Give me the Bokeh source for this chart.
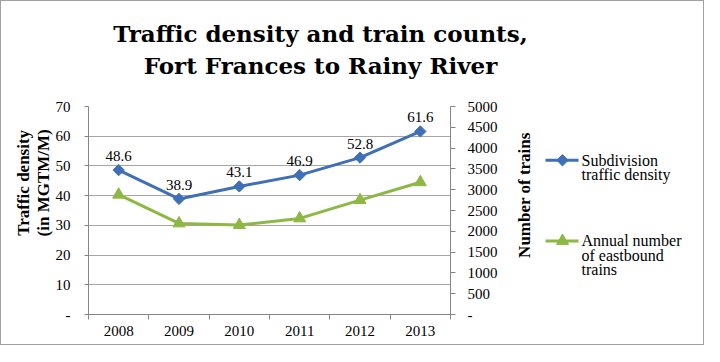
import numpy as np
from bokeh.plotting import figure
from bokeh.layouts import column, row
from bokeh.models import (Range1d, LinearAxis, FixedTicker, LabelSet,
                          ColumnDataSource)
from bokeh.core.properties import value
from bokeh.embed import file_html
from bokeh.resources import INLINE

# ---- data ----
years = ["2008", "2009", "2010", "2011", "2012", "2013"]
density = [48.6, 38.9, 43.1, 46.9, 52.8, 61.6]
trains = [2880, 2190, 2150, 2310, 2750, 3180]
left_ticks = [0, 10, 20, 30, 40, 50, 60, 70]
right_ticks = [0, 500, 1000, 1500, 2000, 2500, 3000, 3500, 4000, 4500, 5000]
title_lines = ["Traffic density and train counts,", "Fort Frances to Rainy River"]
left_title = ["Traffic density", "(in MGTM/M)"]
right_title = "Number of trains"
series_names = [["Subdivision", "traffic density"],
                ["Annual number", "of eastbound", "trains"]]

FONT = "Liberation Serif"
TFONT = "DejaVu Serif"
BLUE = "#3F6FB6"
GREEN = "#8DB843"
AXIS = "#868686"
GRID = "#A6A6A6"
FS = "15px"
NB = "\u00a0"


def blank(w, h):
    f = figure(width=w, height=h, x_range=Range1d(0, w), y_range=Range1d(0, h),
               x_axis_type=None, y_axis_type=None, output_backend="svg",
               toolbar_location=None, min_border=0, outline_line_color=None)
    f.grid.visible = False
    return f


# ---------- title strip ----------
T = blank(702, 80)
T.text(x=[319, 319], y=[48, 16], text=title_lines, text_align="center",
       text_baseline="alphabetic", text_font=value(TFONT), text_font_size="23px",
       text_font_style="bold", text_color="black")

# ---------- main chart ----------
xs = list(range(len(years)))
A = figure(frame_width=362, frame_height=208,
           x_range=Range1d(-0.5, len(years) - 0.5), y_range=Range1d(0, 70),
           output_backend="svg", toolbar_location=None,
           min_border_left=87, min_border_right=55, min_border_top=25,
           min_border_bottom=30, outline_line_color=None)
A.extra_y_ranges = {"trains": Range1d(0, 5000)}

xa = A.below[0]
xa.ticker = FixedTicker(ticks=xs, minor_ticks=[i - 0.5 for i in range(len(years) + 1)])
xa.major_label_overrides = {i: y for i, y in enumerate(years)}
xa.major_tick_out = 0
xa.major_tick_in = 0
xa.minor_tick_out = 5
xa.minor_tick_in = 0
xa.minor_tick_line_color = AXIS
xa.axis_line_color = AXIS
xa.major_label_standoff = 6
xa.major_label_text_font = FONT
xa.major_label_text_font_size = FS
xa.major_label_text_color = "black"

ya = A.left[0]
ya.ticker = FixedTicker(ticks=left_ticks)
ya.major_label_overrides = {0: "-"}
ya.major_tick_out = 4
ya.major_tick_in = 0
ya.minor_tick_line_color = None
ya.axis_line_color = AXIS
ya.major_tick_line_color = AXIS
ya.major_label_standoff = 14
ya.major_label_text_font = FONT
ya.major_label_text_font_size = FS
ya.major_label_text_color = "black"
ya.axis_label = "\n".join(NB * 13 + t for t in left_title)
ya.axis_label_text_font = FONT
ya.axis_label_text_font_size = "17px"
ya.axis_label_text_font_style = "bold"
ya.axis_label_text_color = "black"
ya.axis_label_standoff = 0
ya.axis_label_text_line_height = 1.05

ra = LinearAxis(y_range_name="trains", ticker=FixedTicker(ticks=right_ticks))
ra.major_label_overrides = {0: "-"}
ra.major_tick_out = 5
ra.major_tick_in = 0
ra.minor_tick_line_color = None
ra.axis_line_color = AXIS
ra.major_tick_line_color = AXIS
ra.major_label_standoff = 12
ra.major_label_text_font = FONT
ra.major_label_text_font_size = FS
ra.major_label_text_color = "black"
A.add_layout(ra, "right")

A.xgrid.visible = False
A.ygrid.ticker = FixedTicker(ticks=left_ticks)
A.ygrid.grid_line_color = GRID

A.line(xs, density, line_color=BLUE, line_width=3)
A.scatter(xs, density, marker="square", angle=np.pi / 4, size=8,
          fill_color=BLUE, line_color=BLUE)
A.line(xs, trains, line_color=GREEN, line_width=3, y_range_name="trains")
A.scatter(xs, trains, marker="triangle", size=12, fill_color=GREEN,
          line_color=GREEN, y_range_name="trains")

src = ColumnDataSource(dict(x=xs, y=density, t=["%.1f" % v for v in density]))
A.add_layout(LabelSet(x="x", y="y", text="t", source=src, y_offset=9,
                      text_align="center", text_baseline="bottom",
                      text_font=value(FONT), text_font_size=value(FS),
                      text_color="black"))

# ---------- right strip: axis title + legend ----------
B = blank(198, 263)
B.text(x=[19], y=[151], text=[right_title], angle=np.pi / 2, text_align="center",
       text_baseline="middle", text_font=value(FONT), text_font_size="17px",
       text_font_style="bold", text_color="black")

key_y = [195, 93]
colors = [BLUE, GREEN]
markers = [("square", np.pi / 4, 8), ("triangle", 0, 12)]
for names, ky, c, (mk, ang, sz) in zip(series_names, key_y, colors, markers):
    B.line([40, 73], [ky, ky], line_color=c, line_width=3)
    B.scatter([57], [ky], marker=mk, angle=ang, size=sz, fill_color=c, line_color=c)
    B.text(x=[76] * len(names), y=[ky - 18 * k for k in range(len(names))],
           text=names, text_align="left", text_baseline="middle",
           text_font=value(FONT), text_font_size="16px", text_color="black")

layout = column(T, row(A, B, spacing=0), spacing=0,
                styles={"border": "1px solid #A0A0A0"})

open("out.html", "w").write(file_html(layout, INLINE))
